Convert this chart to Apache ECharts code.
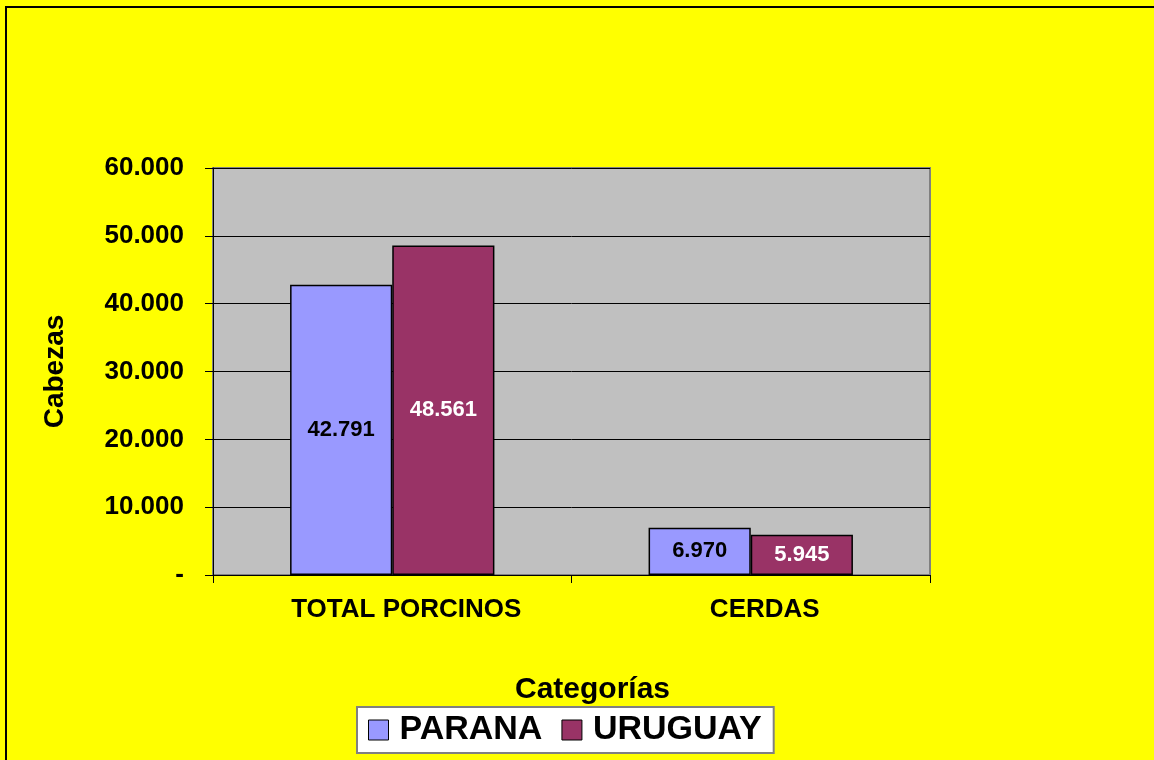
<!DOCTYPE html>
<html>
<head>
    <meta charset="utf-8">
    <title>Cabezas por categoría</title>
    <style>
        html, body { margin: 0; padding: 0; background: #ffff00; }
        #chartBox { width: 1154px; height: 760px; }
    </style>
</head>
<body>
    <div id="chartBox"></div>
    <script src="https://cdn.jsdelivr.net/npm/echarts@6/dist/echarts.min.js"></script>
    <script>
        // 数据
        var categories = ['TOTAL PORCINOS', 'CERDAS'];
        var seriesNames = ['PARANA', 'URUGUAY'];
        var paranaValues = [42791, 6970];
        var uruguayValues = [48561, 5945];
        var colors = ['#9999ff', '#993366'];
        var labelColors = ['#000', '#fff'];

        // 千位用点分隔, 0 显示为 "-"
        function fmt(v) {
            if (v === 0) return '-';
            return String(Math.round(v)).replace(/\B(?=(\d{3})+(?!\d))/g, '.');
        }

        var font = 'Liberation Sans, Arial, sans-serif';
        var chart = echarts.init(document.getElementById('chartBox'));

        var series = [paranaValues, uruguayValues].map(function (vals, i) {
            return {
                name: seriesNames[i],
                type: 'bar',
                barGap: '0%',
                barCategoryGap: '43%',
                data: vals,
                itemStyle: { color: colors[i], borderColor: '#000', borderWidth: 1.5 },
                label: {
                    show: true,
                    position: 'inside',
                    color: labelColors[i],
                    fontFamily: font,
                    fontWeight: 'bold',
                    fontSize: 22,
                    formatter: function (p) { return fmt(p.value); }
                }
            };
        });

        var option = {
            backgroundColor: '#ffff00',
            animation: false,
            grid: {
                left: 213, top: 168, right: 224, bottom: 185,
                show: true, backgroundColor: '#c0c0c0',
                borderColor: '#808080', borderWidth: 2
            },
            legend: {
                data: seriesNames,
                left: 357, top: 707,
                backgroundColor: '#fff',
                borderColor: '#808080',
                borderWidth: 2,
                padding: [6, 12, 6, 11],
                itemGap: 19,
                itemWidth: 20, itemHeight: 20,
                icon: 'rect',
                itemStyle: { borderColor: '#000', borderWidth: 1 },
                textStyle: {
                    fontFamily: font, fontWeight: 'bold', fontSize: 34, color: '#000',
                    padding: [0, 0, 0, 6]
                }
            },
            xAxis: {
                type: 'category',
                data: categories,
                name: 'Categorías',
                nameLocation: 'middle',
                nameGap: 100,
                nameTextStyle: {
                    fontFamily: font, fontWeight: 'bold', fontSize: 30, color: '#000',
                    padding: [0, 0, 0, 42]
                },
                axisLine: { lineStyle: { color: '#000', width: 1 } },
                axisTick: { show: true, length: 8, lineStyle: { color: '#000' } },
                axisLabel: {
                    margin: 22, fontFamily: font, fontWeight: 'bold', fontSize: 26, color: '#000',
                    padding: [0, 0, 0, 28]
                }
            },
            yAxis: {
                type: 'value',
                min: 0, max: 60000, interval: 10000,
                name: 'Cabezas',
                nameLocation: 'middle',
                nameGap: 144,
                nameRotate: 90,
                nameTextStyle: { fontFamily: font, fontWeight: 'bold', fontSize: 28, color: '#000' },
                axisLine: { show: true, lineStyle: { color: '#000', width: 1 } },
                axisTick: { show: true, length: 8, lineStyle: { color: '#000' } },
                axisLabel: {
                    margin: 29, fontFamily: font, fontWeight: 'bold', fontSize: 26, color: '#000',
                    formatter: fmt
                },
                splitLine: { lineStyle: { color: '#000', width: 1 } }
            },
            graphic: [{
                type: 'rect',
                shape: { x: 6, y: 7, width: 1160, height: 770 },
                style: { fill: null, stroke: '#000', lineWidth: 2 },
                z: 100
            }],
            series: series
        };

        chart.setOption(option);
        window.addEventListener('resize', function () { chart.resize(); });
    </script>
</body>
</html>
